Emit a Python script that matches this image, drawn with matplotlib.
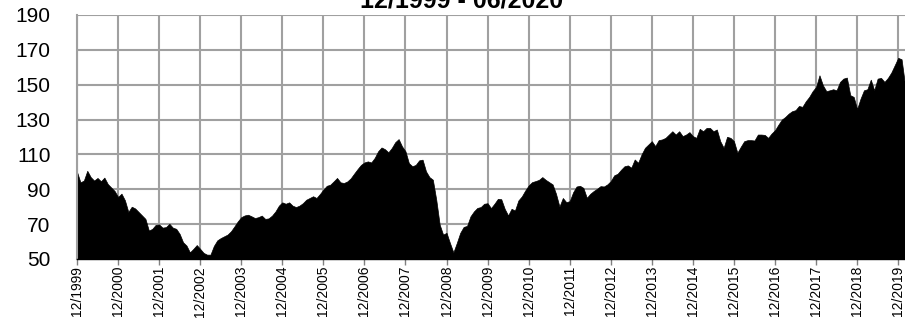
import numpy as np
from matplotlib import pyplot as plt

## Data - monthly index level, 12/1999 onwards
values = [100, 94, 95, 100.6, 97, 95, 96.5, 94.6, 96.7, 93, 91, 89,
          85.6, 87.5, 83.7, 77, 80, 79, 77, 75, 73, 66.3, 67.3, 69.6,
          69.8, 68, 68.3, 70.2, 68, 67.3, 64.4, 59.6, 57.7, 53.8, 55.8, 58,
          55.8, 53.5, 52.5, 52.5, 57.5, 60.7, 62, 63, 64, 65.9, 68.7, 71.6,
          74, 75, 75.4, 74.5, 73.5, 74, 74.9, 73, 73.3, 74.9, 77.3, 80.6,
          82.5, 81.7, 82.5, 80.6, 79.8, 80.6, 82, 84, 85, 86, 85, 87.3,
          89.8, 92, 92.6, 94.5, 96.5, 94, 93.6, 94.5, 96.3, 99, 101.6, 104,
          105.4, 106, 105.4, 108, 111.8, 114, 113, 111.2, 113.7, 117, 118.8, 114.6,
          111.8, 105, 103.2, 104, 106.6, 107, 100.3, 97, 95.5, 84, 69.7, 64,
          65, 59.2, 53.8, 59.2, 65, 68.4, 69, 74.5, 77.3, 79.3, 79.8, 81.7,
          82, 79.2, 81.7, 84.5, 84.3, 78.8, 75, 78.8, 77.8, 83.6, 85.9, 89.3,
          92.2, 94.1, 94.7, 95.4, 97, 95.4, 94.1, 92.8, 87.4, 80.1, 85, 82.6,
          83.2, 88.3, 91.6, 92, 90.8, 85.1, 87.4, 89, 90.3, 91.8, 91.6, 92.8,
          94.7, 98, 98.9, 101.2, 103.2, 103.7, 102.4, 107.1, 105.2, 110, 113.8, 115.7,
          117.6, 114.8, 118.2, 118.6, 119.5, 121.4, 123.3, 121.4, 123.3, 120.5, 121.4, 122.8,
          120.5, 119.5, 124.7, 123.3, 125.2, 125.2, 123.3, 124.3, 117.6, 113.8, 120.1, 119.5,
          117.6, 111, 114.4, 117.6, 118.2, 118.2, 118, 121.4, 121.4, 121.2, 119.5, 122,
          123.9, 127.1, 130, 131.5, 133.4, 134.8, 135.4, 137.8, 137.3, 140.5, 143, 146.3,
          148.7, 155.4, 149.7, 146.3, 146.8, 147.4, 146.8, 151.6, 153.5, 154.1, 144, 143,
          136, 142, 146.8, 147.4, 152.9, 146.8, 153.5, 153.9, 151.6, 153.9, 157, 161.2,
          165.4, 164.6, 150]

tick_labels = ['12/%d' % y for y in range(1999, 2020)]
y_ticks = [50, 70, 90, 110, 130, 150, 170, 190]
title = '12/1999 - 06/2020'

months = np.arange(len(values))

##Plot##
fig = plt.figure(figsize=(9.05, 3.19), dpi=100)
ax = fig.add_axes([77/905, 1 - 259/319, 1 - 77/905, (259 - 15)/319])

ax.fill_between(months, values, 50, color='black', linewidth=0.5, edgecolor='black')

ax.set_xlim(0, len(values) - 1)
ax.set_ylim(50, 190)
ax.set_yticks(y_ticks)
ax.set_xticks(np.arange(0, 12*len(tick_labels), 12))
ax.set_xticklabels(tick_labels, rotation=90, fontsize=10, family='Liberation Sans')
for lab in ax.get_yticklabels():
    lab.set_family('Liberation Sans')
    lab.set_fontsize(15)

ax.grid(color='#a0a0a0', linewidth=1.5)
ax.set_axisbelow(True)
ax.tick_params(axis='y', length=0, pad=19)
ax.tick_params(axis='x', length=4, width=1, color='#808080', pad=1)

for s in ['top', 'right']:
    ax.spines[s].set_visible(False)
ax.spines['left'].set_color('#a0a0a0')
ax.spines['left'].set_linewidth(1.5)
ax.spines['bottom'].set_color('black')
ax.spines['bottom'].set_linewidth(1)

fig.text(462/905, 1 - 8/319, title, ha='center', va='baseline',
         fontsize=18, fontweight='bold', family='Liberation Sans')

plt.savefig('out.png', dpi=100)
